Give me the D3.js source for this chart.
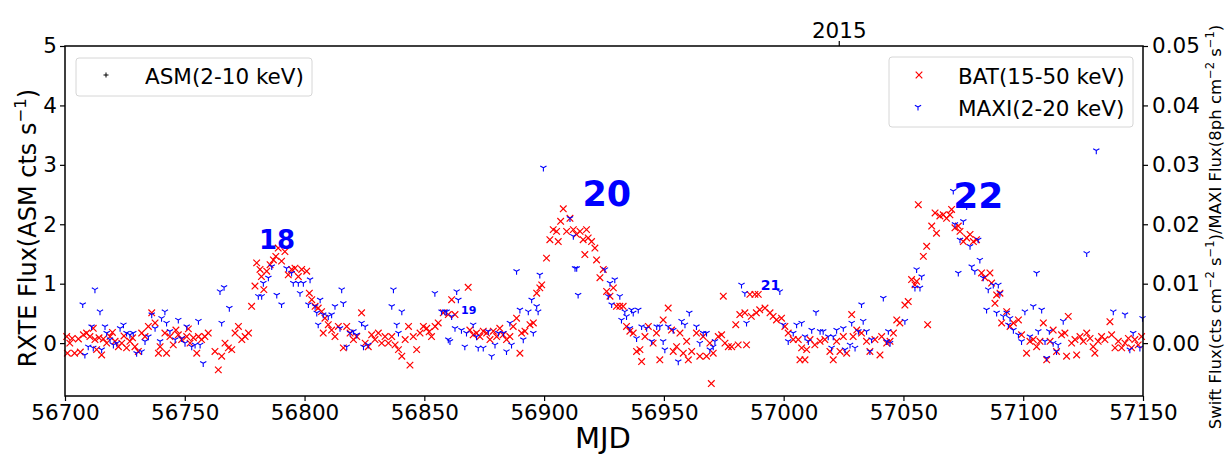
<!DOCTYPE html>
<html>
<head>
<meta charset="utf-8">
<script src="https://cdn.jsdelivr.net/npm/d3@7"></script>
<style>
  body { margin: 0; background: #fff; }
  text { font-family: "DejaVu Sans", sans-serif; }
</style>
</head>
<body>
<svg id="chart" width="1231" height="455"></svg>
<script>
// Swift/BAT 15-50 keV light curve, [MJD, cts cm^-2 s^-1]
const bat = [
  [56700.7, 0.0011], [56701, -0.0017], [56702, 0.0000], [56703, 0.0008], [56704, -0.0017], [56705.6, 0.0007],
  [56706.4, -0.0015], [56707.7, 0.0014], [56709, 0.0017], [56710.4, 0.0011], [56711.8, 0.0025], [56712.5, 0.0006],
  [56713.2, -0.0011], [56714.2, 0.0009], [56715.3, -0.0020], [56716, 0.0007], [56717.4, 0.0000], [56718.8, 0.0011],
  [56719.8, 0.0018], [56720.9, 0.0003], [56722.3, -0.0006], [56723.7, 0.0000], [56724.6, 0.0012], [56725.7, -0.0008],
  [56727.1, 0.0003], [56728.2, 0.0009], [56729.2, -0.0006], [56730.6, -0.0014], [56732, 0.0017], [56733.4, 0.0011],
  [56734.8, 0.0028], [56736.2, 0.0051], [56737.6, 0.0034], [56739, -0.0017], [56739.7, -0.0006], [56741.7, 0.0017],
  [56742.4, -0.0017], [56743.8, 0.0011], [56745.2, -0.0003], [56746.3, 0.0022], [56747.3, 0.0014], [56748.7, 0.0006],
  [56750.8, 0.0011], [56751.5, 0.0024], [56752.2, 0.0000], [56753.6, 0.0009], [56755, -0.0017], [56755.7, 0.0011],
  [56757, 0.0006], [56758.4, 0.0011], [56759.8, 0.0017], [56762.6, -0.0014], [56764, -0.0045], [56765.4, -0.0022],
  [56766.8, 0.0000], [56768.2, -0.0008], [56769.6, -0.0011], [56771, 0.0017], [56772.4, 0.0028], [56773.8, 0.0006],
  [56775.2, 0.0011], [56776.6, 0.0017], [56777.9, 0.0062], [56779.3, 0.0096], [56780, 0.0135], [56781.4, 0.0124],
  [56782, 0.0112], [56783, 0.0090], [56784.2, 0.0121], [56785.6, 0.0132], [56787, 0.0140], [56788, 0.0146],
  [56789, 0.0160], [56790.4, 0.0138], [56791.8, 0.0154], [56793.2, 0.0115], [56794.6, 0.0124], [56796, 0.0126],
  [56797.4, 0.0112], [56798.8, 0.0124], [56800.9, 0.0121], [56802, 0.0084], [56803, 0.0073], [56804.4, 0.0062],
  [56805.7, 0.0059], [56807.1, 0.0053], [56807.8, 0.0017], [56808.5, 0.0042], [56809.9, 0.0031], [56811.3, 0.0022],
  [56812.7, 0.0011], [56814.1, 0.0028], [56816.2, -0.0008], [56817.6, 0.0028], [56819, 0.0017], [56820.4, 0.0006],
  [56821.8, 0.0011], [56823.8, 0.0051], [56825.3, 0.0000], [56826.6, -0.0006], [56828, 0.0014], [56829.4, 0.0006],
  [56830.8, 0.0017], [56832.2, 0.0000], [56833.6, 0.0011], [56835, 0.0000], [56836.4, 0.0011], [56837.8, -0.0003],
  [56839.2, -0.0011], [56840.6, -0.0022], [56842, 0.0006], [56843.4, 0.0028], [56844, -0.0037], [56845.4, 0.0011],
  [56846.8, -0.0011], [56848.2, 0.0017], [56849.6, 0.0028], [56851, 0.0025], [56852, 0.0019], [56853, 0.0011],
  [56854.5, 0.0028], [56855.8, 0.0034], [56857.9, 0.0051], [56860, 0.0048], [56861.4, 0.0073], [56862.8, 0.0048],
  [56868.3, 0.0094], [56869, 0.0022], [56870.4, 0.0014], [56871.8, 0.0017], [56873.2, 0.0011], [56874.6, 0.0020],
  [56876, 0.0017], [56877.4, 0.0006], [56878.8, 0.0020], [56880.2, 0.0011], [56881.5, 0.0025], [56882.9, 0.0014],
  [56884.3, 0.0006], [56885.7, 0.0011], [56887.1, 0.0028], [56888.5, 0.0042], [56889.9, -0.0017], [56890.6, 0.0017],
  [56892, 0.0020], [56894.1, 0.0031], [56895.5, 0.0034], [56896.9, 0.0084], [56898.2, 0.0093], [56899, 0.0098],
  [56901, 0.0143], [56902.4, 0.0174], [56903.8, 0.0191], [56905.2, 0.0188], [56905.9, 0.0171], [56906.9, 0.0205],
  [56908, 0.0226], [56909.4, 0.0188], [56910.8, 0.0210], [56912.2, 0.0191], [56913.5, 0.0183], [56915, 0.0188],
  [56916.3, 0.0174], [56917, 0.0149], [56917.7, 0.0191], [56918.4, 0.0177], [56919.8, 0.0171], [56921.2, 0.0160],
  [56921.9, 0.0140], [56923.3, 0.0110], [56924.7, 0.0124], [56926.1, 0.0087], [56927.5, 0.0079], [56928.9, 0.0093],
  [56930.2, 0.0062], [56931.6, 0.0062], [56933, 0.0062], [56934.4, 0.0028], [56935.8, 0.0020], [56937.2, 0.0017],
  [56938.6, -0.0014], [56940, -0.0011], [56940.7, -0.0031], [56942.1, 0.0011], [56943.5, 0.0028], [56945.5, 0.0000],
  [56946.9, 0.0017], [56948.3, -0.0028], [56949.7, 0.0039], [56951.8, 0.0059], [56953.2, 0.0022], [56953.9, -0.0014],
  [56955.3, -0.0006], [56956.7, 0.0017], [56958.1, -0.0017], [56959.5, 0.0003], [56960.2, -0.0028], [56961.6, -0.0014],
  [56963.6, 0.0017], [56965, -0.0022], [56966.4, 0.0011], [56967.8, -0.0022], [56969.2, 0.0000], [56969.8, -0.0068],
  [56970.6, -0.0017], [56972.7, 0.0011], [56974.1, 0.0014], [56974.8, 0.0079], [56975.5, 0.0000], [56976.9, -0.0006],
  [56978.3, -0.0006], [56980, 0.0031], [56981, -0.0003], [56981.7, 0.0048], [56983.8, 0.0051], [56984.5, -0.0003],
  [56985.9, 0.0082], [56986.5, 0.0045], [56988, 0.0082], [56988.6, 0.0051], [56989.4, 0.0082], [56990, 0.0056],
  [56992.2, 0.0059], [56994.3, 0.0051], [56995.6, 0.0045], [56997, 0.0039], [56999.1, 0.0042], [57000.5, 0.0028],
  [57001.9, 0.0017], [57004, 0.0006], [57006.1, 0.0006], [57006.8, -0.0028], [57007.5, -0.0008], [57008.9, -0.0028],
  [57009.6, -0.0011], [57011, 0.0006], [57013, -0.0003], [57015.2, 0.0003], [57017.2, 0.0006], [57019.3, -0.0014],
  [57020.7, -0.0028], [57022.1, 0.0003], [57023.5, -0.0014], [57024.9, 0.0011], [57026.3, -0.0017], [57028.4, 0.0048],
  [57029, 0.0011], [57030.5, 0.0022], [57032.5, 0.0017], [57034.6, 0.0003], [57036, -0.0014], [57038.1, 0.0006],
  [57040.2, -0.0020], [57040.9, 0.0011], [57043, 0.0000], [57044.4, 0.0003], [57045.8, 0.0017], [57047.2, 0.0039],
  [57048.5, 0.0034], [57050.6, 0.0064], [57052, 0.0070], [57053.4, 0.0107], [57054.8, 0.0098], [57055.5, 0.0104],
  [57056.2, 0.0233], [57058.3, 0.0146], [57059.7, 0.0163], [57060.1, 0.0031], [57061.8, 0.0197], [57063.2, 0.0219],
  [57063.8, 0.0185], [57065.2, 0.0214], [57066.6, 0.0216], [57068, 0.0210], [57069.4, 0.0216], [57070.1, 0.0225],
  [57071.5, 0.0194], [57072.9, 0.0197], [57073.6, 0.0188], [57075, 0.0171], [57076.4, 0.0177], [57077.8, 0.0183],
  [57079.2, 0.0171], [57080.5, 0.0174], [57082.6, 0.0118], [57084, 0.0110], [57086.1, 0.0118], [57086.8, 0.0101],
  [57088.2, 0.0067], [57088.9, 0.0081], [57090.3, 0.0084], [57091, 0.0034], [57093.1, 0.0053], [57094.5, 0.0028],
  [57095.9, 0.0034], [57098, 0.0039], [57099.3, 0.0014], [57101.4, -0.0017], [57102.8, 0.0003], [57104.2, 0.0006],
  [57105.6, -0.0006], [57107, 0.0003], [57108.4, 0.0034], [57109.8, -0.0028], [57111.2, 0.0003], [57112.5, 0.0022],
  [57113.9, -0.0014], [57116, 0.0014], [57117.4, 0.0017], [57118.1, -0.0022], [57118.8, 0.0045], [57120.2, 0.0000],
  [57121.6, 0.0006], [57122.3, -0.0020], [57123.7, 0.0011], [57125.1, 0.0003], [57126.5, 0.0017], [57127.9, 0.0008],
  [57129.2, -0.0006], [57129.9, -0.0017], [57131.3, 0.0003], [57132.7, 0.0011], [57134.1, 0.0006], [57136.2, 0.0036],
  [57136.9, 0.0014], [57138.3, -0.0008], [57139.7, 0.0003], [57141.1, -0.0008], [57142.5, 0.0000], [57143.9, 0.0008],
  [57145.2, -0.0008], [57146.6, 0.0006], [57148, -0.0003], [57149.4, 0.0011]
];

// MAXI 2-20 keV light curve, [MJD, ph cm^-2 s^-1]
const maxi = [
  [56707.4, 0.0065], [56708.3, -0.0020], [56709.7, -0.0006], [56711.1, 0.0028], [56711.8, -0.0008], [56712.5, 0.0090],
  [56714.6, 0.0053], [56715.3, -0.0011], [56716.7, 0.0028], [56717.4, 0.0017], [56718.8, 0.0006], [56720.2, -0.0003],
  [56721.6, 0.0000], [56723, 0.0025], [56724.4, 0.0031], [56725.7, 0.0017], [56727.1, 0.0014], [56728.5, 0.0017],
  [56729.9, -0.0017], [56732, -0.0014], [56733.4, 0.0003], [56734.8, 0.0011], [56736.2, 0.0048], [56737.6, 0.0025],
  [56739.7, 0.0003], [56740.3, 0.0042], [56741.7, 0.0053], [56742.4, 0.0034], [56743.8, 0.0020], [56746, 0.0006],
  [56747.3, 0.0039], [56748.7, 0.0008], [56750.1, 0.0000], [56750.8, 0.0028], [56752.9, -0.0006], [56754.3, -0.0003],
  [56755.7, 0.0037], [56756.4, -0.0003], [56757.7, -0.0034], [56764.7, 0.0087], [56765.4, 0.0034], [56766.4, 0.0094],
  [56768.6, 0.0059], [56780.7, 0.0079], [56782.1, 0.0079], [56782.8, 0.0101], [56784.9, 0.0110], [56786.3, 0.0129],
  [56788.4, 0.0081], [56790.4, 0.0065], [56792.5, 0.0126], [56794.6, 0.0118], [56795.3, 0.0101], [56797.4, 0.0101],
  [56798.1, 0.0084], [56799.5, 0.0101], [56801.6, 0.0065], [56802.3, 0.0107], [56804.4, 0.0062], [56805.1, 0.0051],
  [56805.7, 0.0031], [56806.5, 0.0073], [56807.8, 0.0048], [56809.9, 0.0045], [56811.3, 0.0048], [56812.7, 0.0062],
  [56814.8, 0.0025], [56815.5, 0.0090], [56816.2, 0.0067], [56817.6, -0.0006], [56819, 0.0017], [56820.4, 0.0020],
  [56821.8, 0.0014], [56823.8, 0.0034], [56824.6, -0.0006], [56825.3, 0.0028], [56826.6, -0.0003], [56836.4, 0.0062],
  [56837.1, 0.0090], [56838.5, 0.0031], [56839.2, 0.0017], [56840.6, 0.0053], [56854.4, 0.0084], [56857.2, 0.0053],
  [56858.6, 0.0053], [56859.3, 0.0053], [56860, 0.0006], [56860.7, 0.0003], [56861.4, 0.0045], [56862.8, 0.0025],
  [56863.5, 0.0087], [56864.2, 0.0073], [56865.5, 0.0022], [56866.9, -0.0006], [56867.6, 0.0017], [56870.4, 0.0031],
  [56871.8, 0.0011], [56872.5, -0.0008], [56874.6, -0.0008], [56876.7, 0.0020], [56878.1, -0.0022], [56879.5, -0.0003],
  [56880.9, 0.0017], [56883, 0.0017], [56884.3, -0.0014], [56885.7, 0.0034], [56886.4, -0.0003], [56888.5, 0.0121],
  [56889.9, 0.0056], [56891.3, 0.0006], [56893.4, 0.0053], [56894.8, 0.0073], [56895.5, 0.0017], [56896.9, 0.0062],
  [56897.5, 0.0053], [56898.2, 0.0115], [56899.7, 0.0295], [56910.8, 0.0210], [56912.2, 0.0180], [56912.9, 0.0126],
  [56913.6, 0.0126], [56914.2, 0.0081], [56925.4, 0.0124], [56926.8, 0.0079], [56927.5, 0.0101], [56928.2, 0.0065],
  [56929.5, 0.0107], [56931.6, 0.0079], [56932.3, 0.0039], [56933.7, 0.0053], [56934.4, 0.0045], [56935.8, 0.0025],
  [56936.5, 0.0056], [56937.2, 0.0051], [56938.6, 0.0008], [56939.3, 0.0056], [56940.7, 0.0028], [56942.8, 0.0025],
  [56944.9, 0.0003], [56947, 0.0028], [56948.3, 0.0028], [56949.7, 0.0003], [56950.4, -0.0011], [56951.8, 0.0028],
  [56953.9, 0.0022], [56956, -0.0031], [56957.4, 0.0037], [56958.8, 0.0031], [56960.6, 0.0051], [56963.6, 0.0028],
  [56965, 0.0000], [56966.4, 0.0017], [56967.8, 0.0017], [56969.2, -0.0011], [56970.6, -0.0006], [56971.3, 0.0003],
  [56982.4, 0.0098], [56983.8, 0.0084], [56984.5, 0.0034], [56998.4, 0.0087], [56999.8, 0.0031], [57001.9, 0.0003],
  [57004, 0.0017], [57005.4, 0.0031], [57007.5, 0.0034], [57008.9, 0.0011], [57010.3, 0.0003], [57011.7, 0.0022],
  [57013.5, 0.0052], [57015.2, 0.0020], [57016.5, 0.0020], [57018.6, 0.0011], [57020, -0.0008], [57020.7, 0.0011],
  [57022.1, 0.0022], [57024.9, 0.0025], [57025.6, -0.0011], [57027.7, -0.0003], [57028.4, 0.0034], [57029.8, -0.0008],
  [57031.2, 0.0020], [57032.5, 0.0065], [57033.2, 0.0037], [57034.6, 0.0020], [57036, -0.0014], [57036.7, 0.0006],
  [57041.6, 0.0076], [57043, 0.0003], [57043.7, 0.0020], [57044.4, 0.0000], [57050.6, 0.0037], [57054.8, 0.0093],
  [57055.5, 0.0124], [57056.9, 0.0093], [57057.6, 0.0112], [57070.8, 0.0256], [57071.5, 0.0200], [57072.9, 0.0118],
  [57073.6, 0.0174], [57075, 0.0205], [57076.4, 0.0230], [57077.8, 0.0163], [57078.5, 0.0129], [57079.8, 0.0121],
  [57081.2, 0.0174], [57081.9, 0.0140], [57083.3, 0.0110], [57084.7, 0.0056], [57085.4, 0.0090], [57087.5, 0.0098],
  [57088.9, 0.0051], [57089.6, 0.0098], [57090.3, 0.0084], [57091.7, 0.0045], [57093.1, 0.0051], [57093.8, 0.0031],
  [57094.5, 0.0042], [57095.9, 0.0022], [57098, 0.0014], [57099.3, 0.0003], [57100.7, 0.0053], [57102.8, 0.0011],
  [57104.2, 0.0062], [57105.6, 0.0118], [57106.3, 0.0020], [57107.7, 0.0056], [57109.1, 0.0003], [57109.8, -0.0025],
  [57110.9, 0.0020], [57112.5, 0.0000], [57113.9, -0.0014], [57114.6, -0.0003], [57116.7, 0.0037], [57126.5, 0.0151],
  [57130.5, 0.0324], [57137.6, 0.0053], [57142.5, 0.0048], [57144.5, -0.0011], [57145.9, 0.0017], [57148.7, -0.0008],
  [57149.8, 0.0042]
];

// RXTE/ASM 2-10 keV: no data in this MJD range (legend entry only)
const asm = [];

// outburst numbers, anchored in data coordinates [MJD, flux]
const outburstLabels = ["18", "19", "20", "21", "22"];
const outburstMjd = [56781, 56865.3, 56916, 56990.4, 57070.8];
const outburstFlux = [0.0159, 0.0049, 0.0230, 0.0090, 0.0228];

const leftTicks = [0, 1, 2, 3, 4, 5];
const rightTicks = [0, 0.01, 0.02, 0.03, 0.04, 0.05];
const mjdTicks = [56700, 56750, 56800, 56850, 56900, 56950, 57000, 57050, 57100, 57150];
const yearTicks = [57023];
const yearLabels = ["2015"];

const svg = d3.select("#chart");
const plotLeft = 65, plotRight = 1143, plotTop = 46, plotBottom = 396;
const fs = "21.5px";

const x = d3.scaleLinear().domain([56700, 57150]).range([plotLeft, plotRight]);
const yL = d3.scaleLinear().domain([-0.89, 5]).range([plotBottom, plotTop]);
const yR = d3.scaleLinear().domain([-0.0089, 0.05]).range([plotBottom, plotTop]);

// marker shapes
function crossPath(r) { return `M${-r},${-r}L${r},${r}M${-r},${r}L${r},${-r}`; }
function triDownPath(r) {
  return `M0,0L0,${r}M0,0L${-0.866 * r},${-0.5 * r}M0,0L${0.866 * r},${-0.5 * r}`;
}
function plusPath(r) { return `M${-r},0L${r},0M0,${-r}L0,${r}`; }

const plot = svg.append("g");

plot.selectAll(".bat")
  .data(bat)
  .enter().append("path")
  .attr("class", "bat")
  .attr("transform", d => `translate(${x(d[0])},${yR(d[1])})`)
  .attr("d", crossPath(3.3))
  .attr("stroke", "#ff0000")
  .attr("stroke-width", 1.2)
  .attr("fill", "none");

plot.selectAll(".maxi")
  .data(maxi)
  .enter().append("path")
  .attr("class", "maxi")
  .attr("transform", d => `translate(${x(d[0])},${yR(d[1])})`)
  .attr("d", triDownPath(3.6))
  .attr("stroke", "#0000ff")
  .attr("stroke-width", 1.1)
  .attr("fill", "none");

plot.selectAll(".asm")
  .data(asm)
  .enter().append("path")
  .attr("transform", d => `translate(${x(d[0])},${yL(d[1])})`)
  .attr("d", plusPath(2.5))
  .attr("stroke", "#000");

// outburst numbers
const labelSize = { "18": 26, "19": 11, "20": 35, "21": 14, "22": 36 };
svg.selectAll(".num")
  .data(outburstLabels)
  .enter().append("text")
  .attr("x", (d, i) => x(outburstMjd[i]))
  .attr("y", (d, i) => yR(outburstFlux[i]))
  .attr("fill", "#0000ff")
  .attr("font-weight", "bold")
  .attr("font-size", d => labelSize[d] + "px")
  .text(d => d);

// axes
function styleAxis(g) {
  g.select(".domain").remove();
  g.selectAll(".tick line").attr("stroke", "#000").attr("stroke-width", 1.2);
  g.selectAll(".tick text").attr("fill", "#000").style("font-size", fs)
    .style("font-family", "'DejaVu Sans', sans-serif");
}

svg.append("g")
  .attr("transform", `translate(0,${plotBottom})`)
  .call(d3.axisBottom(x).tickValues(mjdTicks).tickFormat(d3.format("d")).tickSize(5).tickPadding(4))
  .call(styleAxis);

svg.append("g")
  .attr("transform", `translate(${plotLeft},0)`)
  .call(d3.axisLeft(yL).tickValues(leftTicks).tickFormat(d3.format("d")).tickSize(5).tickPadding(3))
  .call(styleAxis);

svg.append("g")
  .attr("transform", `translate(${plotRight},0)`)
  .call(d3.axisRight(yR).tickValues(rightTicks).tickFormat(d3.format(".2f")).tickSize(5).tickPadding(4))
  .call(styleAxis);

svg.append("g")
  .attr("transform", `translate(0,${plotTop})`)
  .call(d3.axisTop(x).tickValues(yearTicks).tickFormat((d, i) => yearLabels[i]).tickSize(5).tickPadding(3))
  .call(styleAxis);

// frame
svg.append("rect")
  .attr("x", plotLeft).attr("y", plotTop)
  .attr("width", plotRight - plotLeft).attr("height", plotBottom - plotTop)
  .attr("fill", "none").attr("stroke", "#000").attr("stroke-width", 1.5);

// axis titles
svg.append("text")
  .attr("x", 603).attr("y", 448)
  .attr("text-anchor", "middle")
  .style("font-size", "29px")
  .text("MJD");

const yTitle = svg.append("text")
  .attr("transform", "translate(36,228) rotate(-90)")
  .attr("text-anchor", "middle")
  .style("font-size", "24px");
yTitle.append("tspan").text("RXTE Flux(ASM cts s");
yTitle.append("tspan").attr("dy", -10).style("font-size", "16.5px").text("\u22121");
yTitle.append("tspan").attr("dy", 10).text(")");

const rTitle = svg.append("text")
  .attr("transform", "translate(1221,227) rotate(-90)")
  .attr("text-anchor", "middle")
  .style("font-size", "16.5px");
const rParts = [
  ["Swift Flux(cts cm", false], ["\u22122", true], [" s", false], ["\u22121", true],
  [")/MAXI Flux(8ph cm", false], ["\u22122", true], [" s", false], ["\u22121", true], [")", false]
];
let sup = false;
rParts.forEach(p => {
  const t = rTitle.append("tspan").text(p[0]);
  if (p[1] && !sup) { t.attr("dy", -7).style("font-size", "11.5px"); sup = true; }
  else if (!p[1] && sup) { t.attr("dy", 7); sup = false; }
  else if (p[1]) t.style("font-size", "11.5px");
});

// legends
function legendBox(x0, y0, w, h) {
  svg.append("rect")
    .attr("x", x0).attr("y", y0).attr("width", w).attr("height", h)
    .attr("rx", 3).attr("fill", "#fff").attr("fill-opacity", 0.8)
    .attr("stroke", "#d6d6d6").attr("stroke-width", 1);
}
legendBox(76, 58, 236, 38);
svg.append("path").attr("transform", "translate(106,75)").attr("d", plusPath(2.5))
  .attr("stroke", "#000").attr("stroke-width", 1);
svg.append("text").attr("x", 145).attr("y", 84).style("font-size", fs).text("ASM(2-10 keV)");

legendBox(889, 57, 244, 70);
svg.append("path").attr("transform", "translate(919,75)").attr("d", crossPath(3.3))
  .attr("stroke", "#ff0000").attr("stroke-width", 1.2);
svg.append("text").attr("x", 958).attr("y", 84).style("font-size", fs).text("BAT(15-50 keV)");
svg.append("path").attr("transform", "translate(918,107)").attr("d", triDownPath(3.6))
  .attr("stroke", "#0000ff").attr("stroke-width", 1.1);
svg.append("text").attr("x", 958).attr("y", 116).style("font-size", fs).text("MAXI(2-20 keV)");
</script>
</body>
</html>
